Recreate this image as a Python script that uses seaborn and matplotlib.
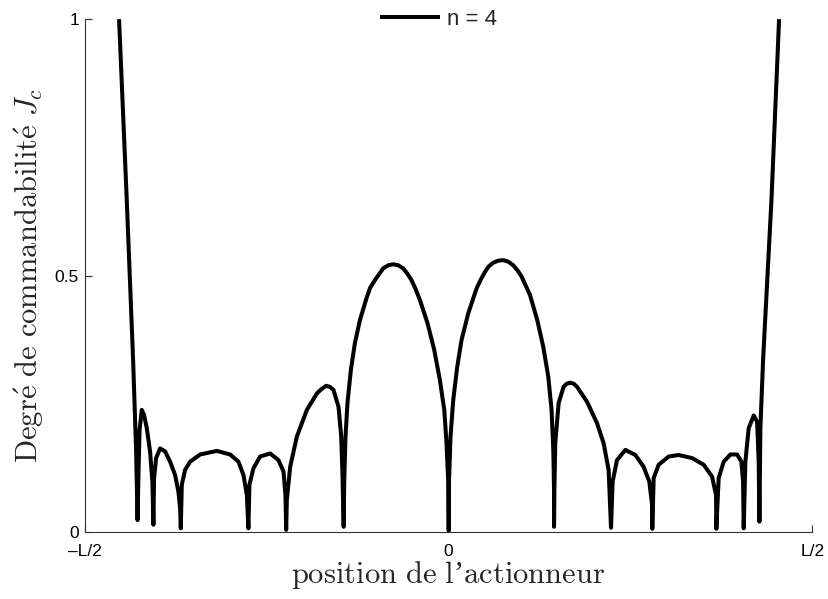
import matplotlib
matplotlib.use('Agg')
import matplotlib.pyplot as plt
import seaborn as sns
import pandas as pd

# positions (en unites de L) et degre de commandabilite
x_pos = [
    -0.4526, -0.4420, -0.4333, -0.4292, -0.4272,
    -0.4258, -0.4244, -0.4214, -0.4182, -0.4145, -0.4100, -0.4068, -0.4054,
    -0.4045, -0.4017, -0.3962, -0.3893, -0.3825, -0.3756, -0.3711, -0.3687, -0.3678,
    -0.3664, -0.3619, -0.3550, -0.3412, -0.3183, -0.3000, -0.2886, -0.2817, -0.2770, -0.2749,
    -0.2735, -0.2680, -0.2588, -0.2450, -0.2336, -0.2267, -0.2240, -0.2230,
    -0.2221, -0.2175, -0.2083, -0.1946, -0.1808, -0.1742, -0.1680, -0.1632, -0.1580, -0.1511,
    -0.1474, -0.1456, -0.1440,
    -0.1433, -0.1415, -0.1388, -0.1341, -0.1286, -0.1217, -0.1126, -0.1077, -0.1011, -0.0952,
    -0.0897, -0.0828, -0.0759, -0.0690, -0.0622, -0.0567, -0.0508, -0.0450, -0.0392, -0.0288,
    -0.0196, -0.0118, -0.0058, -0.0027, -0.0003, 0.0003,
    0.0006, 0.0028, 0.0065, 0.0120, 0.0179, 0.0271, 0.0386, 0.0443, 0.0501, 0.0553,
    0.0615, 0.0684, 0.0753, 0.0821, 0.0890, 0.0949, 0.1004, 0.1062, 0.1120, 0.1220,
    0.1302, 0.1371, 0.1416, 0.1440, 0.1450, 0.1450,
    0.1454, 0.1467, 0.1513, 0.1581, 0.1625, 0.1674, 0.1720, 0.1766, 0.1903, 0.2041,
    0.2131, 0.2200, 0.2233,
    0.2255, 0.2315, 0.2430, 0.2567, 0.2681, 0.2759, 0.2797, 0.2800,
    0.2819, 0.2887, 0.3025, 0.3162, 0.3346, 0.3506, 0.3621, 0.3676, 0.3680,
    0.3712, 0.3781, 0.3873, 0.3965, 0.4024, 0.4047, 0.4056,
    0.4079, 0.4124, 0.4193, 0.4240, 0.4262, 0.4272,
    0.4285, 0.4322, 0.4437, 0.4542,
]
jc = [
    1.000, 0.647, 0.335, 0.160, 0.023,
    0.121, 0.199, 0.238, 0.228, 0.202, 0.157, 0.098, 0.014,
    0.105, 0.144, 0.163, 0.157, 0.137, 0.111, 0.079, 0.046, 0.007,
    0.092, 0.121, 0.137, 0.151, 0.158, 0.151, 0.137, 0.111, 0.072, 0.007,
    0.092, 0.124, 0.147, 0.153, 0.140, 0.118, 0.072, 0.004,
    0.062, 0.127, 0.186, 0.238, 0.270, 0.279, 0.285, 0.283, 0.277, 0.244,
    0.186, 0.108, 0.010,
    0.095, 0.186, 0.251, 0.316, 0.368, 0.413, 0.456, 0.476, 0.491, 0.503,
    0.514, 0.520, 0.522, 0.520, 0.514, 0.504, 0.491, 0.473, 0.452, 0.407,
    0.355, 0.296, 0.238, 0.173, 0.095, 0.002,
    0.095, 0.186, 0.257, 0.322, 0.374, 0.426, 0.475, 0.492, 0.507, 0.518,
    0.525, 0.529, 0.530, 0.527, 0.520, 0.510, 0.498, 0.480, 0.462, 0.413,
    0.361, 0.303, 0.238, 0.160, 0.082, 0.010,
    0.075, 0.173, 0.251, 0.283, 0.289, 0.291, 0.289, 0.283, 0.254, 0.212,
    0.173, 0.121, 0.008,
    0.098, 0.140, 0.160, 0.150, 0.127, 0.098, 0.053, 0.006,
    0.105, 0.131, 0.147, 0.150, 0.144, 0.131, 0.108, 0.072, 0.006,
    0.105, 0.137, 0.151, 0.151, 0.137, 0.098, 0.007,
    0.137, 0.202, 0.227, 0.215, 0.137, 0.020,
    0.202, 0.335, 0.647, 1.000,
]
x_ticks = [-0.5, 0, 0.5]
x_ticklabels = ['\u2013L/2', '0', 'L/2']
y_ticks = [0, 0.5, 1]
y_ticklabels = ['0', '0.5', '1']

sns.set_theme(style='ticks')
plt.rcParams['font.family'] = ['Liberation Sans', 'DejaVu Sans']
plt.rcParams['mathtext.fontset'] = 'cm'

df = pd.DataFrame({'pos': x_pos, 'Jc': jc})

fig = plt.figure(figsize=(8.29, 5.99), dpi=100)
ax = fig.add_axes([0.102, 0.112, 0.878, 0.856])
sns.lineplot(data=df, x='pos', y='Jc', sort=False, estimator=None,
             color='black', lw=2.9, label='n = 4', ax=ax,
             solid_joinstyle='round', solid_capstyle='butt')

ax.set_xlim(-0.5, 0.5)
ax.set_ylim(0, 1)
ax.set_xticks(x_ticks)
ax.set_xticklabels(x_ticklabels)
ax.set_yticks(y_ticks)
ax.set_yticklabels(y_ticklabels)
ax.tick_params(direction='in', length=5, width=0.8, labelsize=12.5,
               colors='#333333', labelcolor='black')
ax.tick_params(axis='x', pad=9)
ax.tick_params(axis='y', pad=4)
for s in ['top', 'right']:
    ax.spines[s].set_visible(False)
for s in ['left', 'bottom']:
    ax.spines[s].set_linewidth(0.8)
    ax.spines[s].set_color('#333333')

ax.set_xlabel(r'$\mathrm{position\ de\ l}$' + '\u2019' + r'$\mathrm{actionneur}$',
              fontsize=22, family=['Liberation Serif', 'DejaVu Serif'], labelpad=0)
ax.set_ylabel(r'$\mathrm{Degr\acute{e}\ de\ commandabilit\acute{e}}\ J_c$',
              fontsize=22, labelpad=6)

leg = ax.legend(loc='center', bbox_to_anchor=(0.486, 1.0), frameon=False,
                fontsize=16, handlelength=2.7, handletextpad=0.3)

fig.savefig('out.png', dpi=100)
